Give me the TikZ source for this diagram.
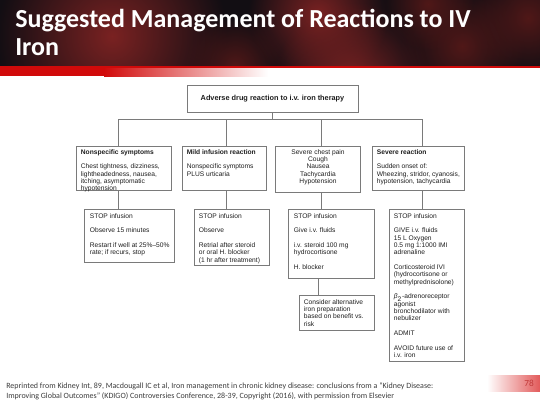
\documentclass[tikz,border=0pt]{standalone}
\usepackage{fontspec}
\setmainfont{Liberation Sans}
\newfontfamily\calib{Carlito}
\usetikzlibrary{fit,fadings}
\definecolor{hdrbg}{HTML}{120E13}
\definecolor{cellred}{HTML}{7A2222}
\definecolor{celldim}{HTML}{501818}
\definecolor{bandred}{HTML}{D10A0A}
\definecolor{boxgray}{HTML}{7A7A7A}
\definecolor{inktext}{HTML}{1E1E1E}
\definecolor{footgray}{HTML}{3C3C3C}
\definecolor{numred}{HTML}{E25A5A}
\definecolor{numdark}{HTML}{C23A3A}
% soft round blob used for the out-of-focus cells
\tikzfading[name=softdisc, inner color=transparent!0, outer color=transparent!100]

\begin{document}
\begin{tikzpicture}[x=0.75pt,y=-0.75pt,
  frame/.style={draw=boxgray, line width=0.55pt, inner sep=0pt},
  link/.style={draw=boxgray, line width=0.55pt},
  txt/.style={font=\fontsize{5}{5.5}\selectfont, text=inktext, align=left, inner sep=0pt, anchor=north west},
  ctxt/.style={txt, align=center, anchor=north},
  head/.style={font=\fontsize{5.5}{6}\selectfont\bfseries, text=inktext, inner sep=0pt},
  cell/.style={fill=cellred, path fading=softdisc},
  dimcell/.style={fill=celldim, path fading=softdisc},
  titletext/.style={font=\calib\bfseries\fontsize{19.5}{21}\selectfont, text=white, inner sep=0pt, anchor=base west},
  foot/.style={font=\calib\fontsize{6}{7.5}\selectfont, text=footgray, inner sep=0pt, anchor=base west}
]
\useasboundingbox (0,0) rectangle (540,405);

% ---- header with blurred blood cells ----
\fill[hdrbg] (0,0) rectangle (540,66);
\begin{scope}
  \clip (0,0) rectangle (540,66);
  \fill[cell] (112,36) circle (115);
  \fill[cell] (318,14) circle (70);
  \fill[dimcell] (235,66) circle (50);
  \fill[cell] (352,80) circle (78);
  \fill[dimcell] (462,46) circle (62);
  \fill[dimcell] (528,18) circle (58);
  \fill[dimcell] (428,4) circle (46);
\end{scope}
\fill[bandred] (0,66) rectangle (104,76);
\shade[left color=bandred, right color=white] (104,66) rectangle (268,76);
\fill[bandred] (0,66) rectangle (540,67.5);

\node[titletext] (title1) at (15,27.5) {Suggested Management of Reactions to IV};
\node[titletext] (title2) at (15,55.5) {Iron};

% ---- flowchart boxes ----
\node[frame, fit={(187,85) (358,112)}] (top) {};
\node[head] (toptxt) at (top.center) {Adverse drug reaction to i.v. iron therapy};

\node[frame, fit={(76,146) (171,190)}] (n1) {};
\node[frame, fit={(182,146) (266,190)}] (n2) {};
\node[frame, fit={(275,146) (360,192)}] (n3) {};
\node[frame, fit={(372,146) (464,190)}] (n4) {};

\node[frame, fit={(84,209) (174,262)}] (s1) {};
\node[frame, fit={(194,209) (269,265)}] (s2) {};
\node[frame, fit={(288,209) (374,278)}] (s3) {};
\node[frame, fit={(389,209) (464,361)}] (s4) {};
\node[frame, fit={(299,295) (374,330)}] (s5) {};

% ---- connectors ----
\coordinate (bus) at (0,119);
\coordinate (c1) at (118,0);
\coordinate (c2) at (226,0);
\coordinate (c3) at (321,0);
\coordinate (c4) at (422,0);
\coordinate (c5) at (318,0);
\draw[link] (top.south) -- (top.south |- bus);
\draw[link] (c1 |- n1.north) -- (c1 |- bus) -- (c4 |- bus) -- (c4 |- n4.north);
\draw[link] (c2 |- bus) -- (c2 |- n2.north);
\draw[link] (c3 |- bus) -- (c3 |- n3.north);
\draw[link] (c1 |- n1.south) -- (c1 |- s1.north);
\draw[link] (c2 |- n2.south) -- (c2 |- s2.north);
\draw[link] (c3 |- n3.south) -- (c3 |- s3.north);
\draw[link] (c4 |- n4.south) -- (c4 |- s4.north);
\draw[link] (c5 |- s3.south) -- (c5 |- s5.north);

% ---- box texts ----
\node[txt] (t1) at ([shift={(5,3.5)}]n1.north west)
  {\textbf{Nonspecific symptoms}\\[5.5pt]
   Chest tightness, dizziness,\\lightheadedness, nausea,\\itching, asymptomatic\\hypotension};
\node[txt] (t2) at ([shift={(5,3.5)}]n2.north west)
  {\textbf{Mild infusion reaction}\\[5.5pt]
   Nonspecific symptoms\\PLUS urticaria};
\node[ctxt] (t3) at ([shift={(0.5,3.5)}]n3.north)
  {Severe chest pain\\Cough\\Nausea\\Tachycardia\\Hypotension};
\node[txt] (t4) at ([shift={(5,3.5)}]n4.north west)
  {\textbf{Severe reaction}\\[5.5pt]
   Sudden onset of:\\Wheezing, stridor, cyanosis,\\hypotension, tachycardia};

\node[txt] (u1) at ([shift={(6,4.5)}]s1.north west)
  {STOP infusion\\[5.5pt]
   Observe 15 minutes\\[5.5pt]
   Restart if well at 25\%–50\%\\rate; if recurs, stop};
\node[txt] (u2) at ([shift={(5,4.5)}]s2.north west)
  {STOP infusion\\[5.5pt]
   Observe\\[5.5pt]
   Retrial after steroid\\or oral H. blocker\\(1 hr after treatment)};
\node[txt] (u3) at ([shift={(6,4.5)}]s3.north west)
  {STOP infusion\\[5.5pt]
   Give i.v. fluids\\[5.5pt]
   i.v. steroid 100 mg\\hydrocortisone\\[5.5pt]
   H. blocker};
\node[txt] (u4) at ([shift={(5,4.5)}]s4.north west)
  {STOP infusion\\[5.5pt]
   GIVE i.v. fluids\\15 L Oxygen\\0.5 mg 1:1000 IMI\\adrenaline\\[5.5pt]
   Corticosteroid IVI\\(hydrocortisone or\\methylprednisolone)\\[5.5pt]
   \textit{β}\textsubscript{2}-adrenoreceptor\\agonist\\bronchodilator with\\nebulizer\\[5.5pt]
   ADMIT\\[5.5pt]
   AVOID future use of\\i.v. iron};
\node[txt] (u5) at ([shift={(5,4.5)}]s5.north west)
  {Consider alternative\\iron preparation\\based on benefit vs.\\risk};

% ---- footer ----
\node[foot] (f1) at (6,388) {Reprinted from Kidney Int, 89, Macdougall IC et al, Iron management in chronic kidney disease: conclusions from a “Kidney Disease:};
\node[foot] (f2) at (6,398) {Improving Global Outcomes” (KDIGO) Controversies Conference, 28-39, Copyright (2016), with permission from Elsevier};

\shade[left color=white, right color=numred] (487,375) rectangle (540,391);
\node[font=\calib\fontsize{7}{8}\selectfont, text=numdark, inner sep=0pt, anchor=base east] (pg) at (534,386) {78};
\end{tikzpicture}
\end{document}
